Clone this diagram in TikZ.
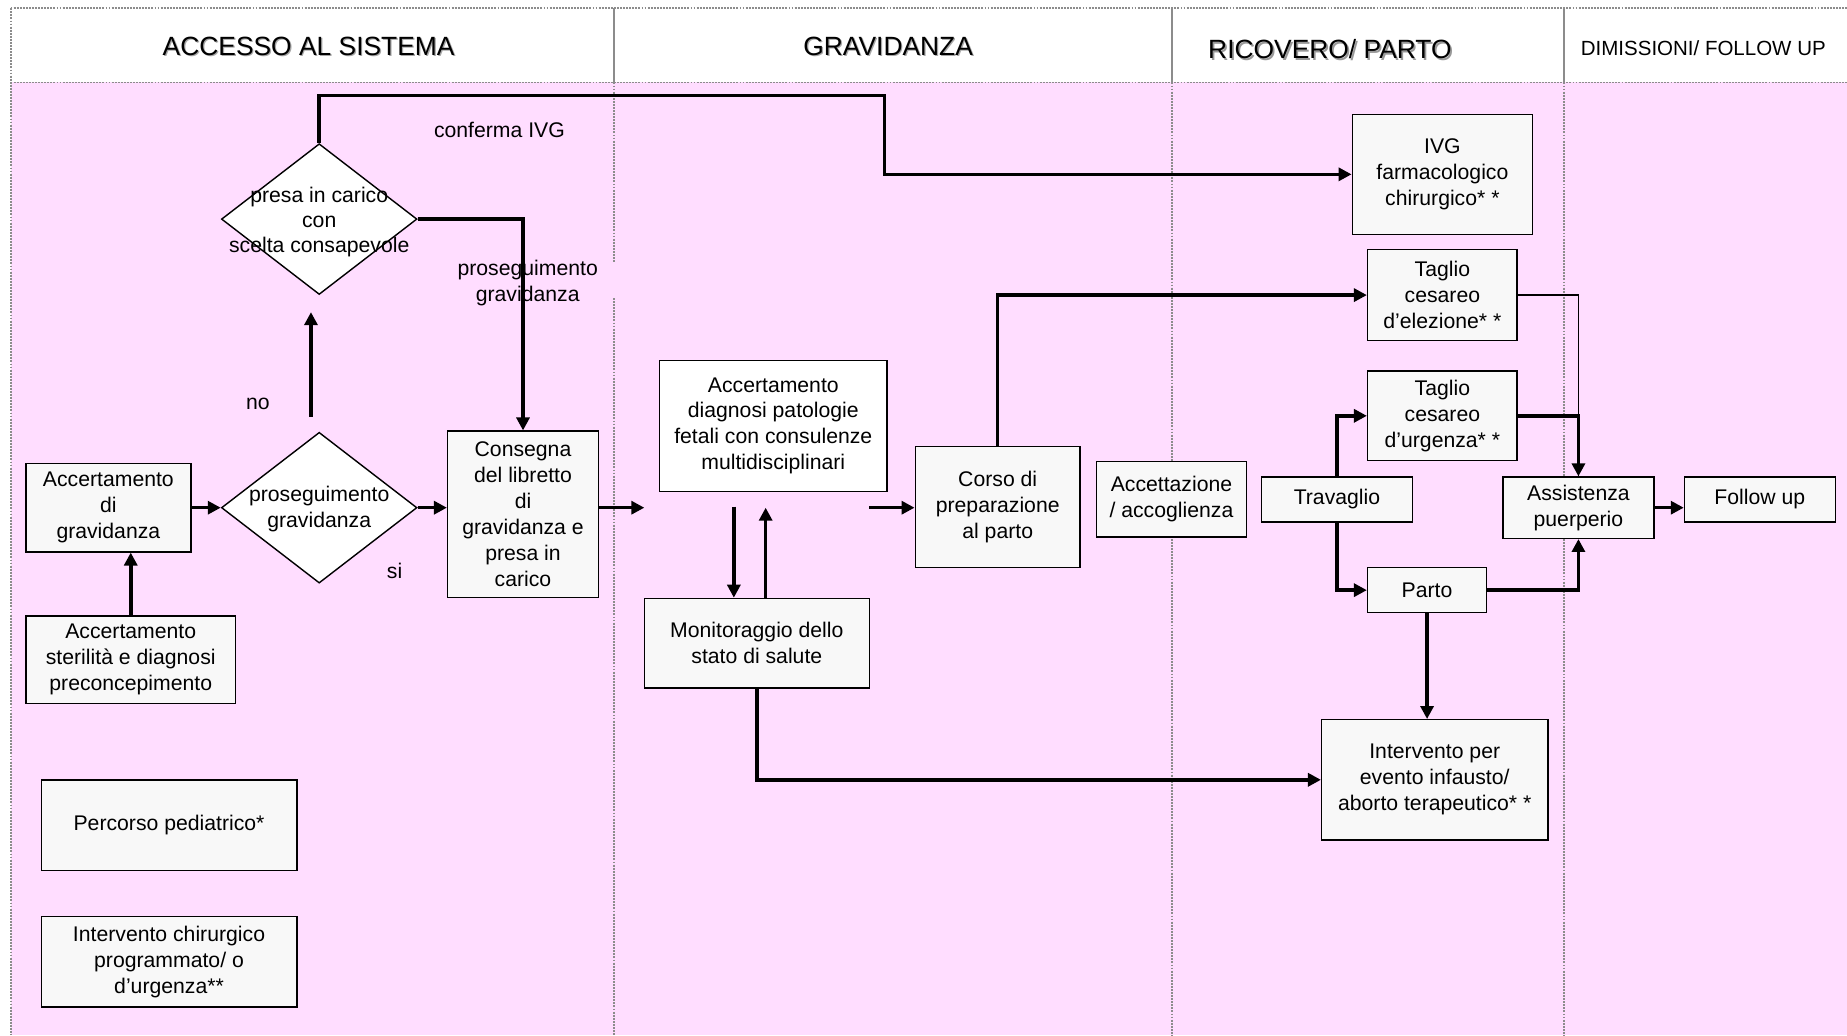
\documentclass[tikz,border=0pt]{standalone}
\usepackage{fontspec}
\setmainfont{Liberation Sans}
\usetikzlibrary{shapes.geometric,arrows.meta}
\definecolor{lanepink}{RGB}{255,221,255}
\definecolor{boxgray}{RGB}{248,248,248}
\definecolor{rulegray}{RGB}{140,140,140}
\tikzset{
  box/.style={draw=black, line width=0.6pt, fill=boxgray, inner sep=0pt,
    align=center, font=\fontsize{9}{11}\selectfont},
  wbox/.style={box, fill=white},
  choice/.style={draw=black, line width=0.6pt, fill=white, shape=diamond,
    inner sep=0pt, minimum width=83pt, minimum height=64pt},
  flow/.style={line width=1.5pt, -{Triangle[length=5.5pt,width=5.5pt]}},
  thinflow/.style={line width=0.7pt},
  lbl/.style={align=center, font=\fontsize{9}{11}\selectfont},
  head/.style={font=\fontsize{11.2}{13}\selectfont},
  lanerule/.style={draw=rulegray, line width=0.8pt, dash pattern=on 0.8pt off 0.5pt},
  hdrrule/.style={draw=rulegray, line width=0.8pt},
}
\begin{document}
\begin{tikzpicture}[x=0.5pt, y=-0.5pt]
\useasboundingbox (0,0) rectangle (1568,879);
% lanes
\fill[white] (0,0) rectangle (1568,879);
\fill[lanepink] (9,70) rectangle (1568,879);
\draw[lanerule] (9,7) -- (1568,7);
\draw[lanerule] (9,70) -- (1568,70);
\draw[lanerule] (9,7) -- (9,879);
\foreach \lx in {521,995,1328} \draw[hdrrule] (\lx,7) -- (\lx,70);
\draw[lanerule] (521,70) -- (521,223);
\draw[lanerule] (521,253) -- (521,879);
\draw[lanerule] (995,70) -- (995,879);
\draw[lanerule] (1328,70) -- (1328,879);

% lane titles
\node[head, text=gray!70] at (263,40.5) {ACCESSO AL SISTEMA};
\node[head] (hAcc) at (262,39.5) {ACCESSO AL SISTEMA};
\node[head, text=gray!70] at (755,40.5) {GRAVIDANZA};
\node[head] (hGrav) at (754,39.5) {GRAVIDANZA};
\node[head, text=gray!80] at (1130.5,43) {RICOVERO/ PARTO};
\node[head] (hRic) at (1129,41.5) {RICOVERO/ PARTO};
\node[font=\fontsize{8.7}{10}\selectfont] (hDim) at (1446,41) {DIMISSIONI/ FOLLOW UP};

% access to the system
\node[box, minimum width=70pt, minimum height=37.5pt] (accgrav) at (92,431) {Accertamento\\di\\gravidanza};
\node[box, minimum width=89pt, minimum height=37pt] (acster) at (111,560) {Accertamento\\sterilità e diagnosi\\preconcepimento};
\node[choice] (d1) at (271,431) {};
\node[lbl] (d1t) at (271,432.5) {proseguimento\\gravidanza};
\node[choice] (d2) at (271,186) {};
\node[lbl, font=\fontsize{9}{10.7}\selectfont] (d2t) at (271,188.5) {presa in carico\\con\\scelta consapevole};
\node[box, minimum width=64pt, minimum height=70.5pt] (consegna) at (444,436.5) {Consegna\\del libretto\\di\\gravidanza e\\presa in\\carico};
\node[box, minimum width=108.5pt, minimum height=38.5pt] (pediat) at (143.5,700.5) {Percorso pediatrico*};
\node[box, minimum width=108.5pt, minimum height=38.5pt] (chir) at (143.5,816.5) {Intervento chirurgico\\programmato/ o\\d’urgenza**};

\node[lbl] (lIVG) at (424,110.5) {conferma IVG};
\node[lbl] (lPros) at (448,240.5) {proseguimento\\gravidanza};
\node[lbl] (lNo) at (219,342.5) {no};
\node[lbl] (lSi) at (335,484.5) {si};

% pregnancy
\node[wbox, minimum width=96.5pt, minimum height=55.5pt] (accdiag) at (656.5,361.5) {Accertamento\\diagnosi patologie\\fetali con consulenze\\multidisciplinari};
\node[box, minimum width=95.5pt, minimum height=38pt] (monit) at (642.5,546) {Monitoraggio dello\\stato di salute};
\node[box, minimum width=70pt, minimum height=51.5pt] (corso) at (847,430.5) {Corso di\\preparazione\\al parto};

% admission / delivery
\node[box, minimum width=63.5pt, minimum height=32pt] (accett) at (994.5,424) {Accettazione\\/ accoglienza};
\node[box, minimum width=76.5pt, minimum height=51pt] (ivg) at (1224.5,148) {IVG\\farmacologico\\chirurgico* *};
\node[box, minimum width=63.5pt, minimum height=38.5pt] (tce) at (1224.5,250.5) {Taglio\\cesareo\\d’elezione* *};
\node[box, minimum width=63.5pt, minimum height=38pt] (tcu) at (1224.5,353) {Taglio\\cesareo\\d’urgenza* *};
\node[box, minimum width=64pt, minimum height=19pt] (trav) at (1135,424) {Travaglio};
\node[box, minimum width=50.5pt, minimum height=19pt] (parto) at (1211.5,501) {Parto};
\node[box, minimum width=96pt, minimum height=51pt] (interv) at (1218,662) {Intervento per\\evento infausto/\\aborto terapeutico* *};

% discharge / follow up
\node[box, minimum width=64pt, minimum height=26pt] (assist) at (1340,431) {Assistenza\\puerperio};
\node[box, minimum width=64pt, minimum height=19pt] (follow) at (1494,424) {Follow up};

% free ends of the short connectors
\coordinate (noA) at (264,354);
\coordinate (noB) at (264,265);
\coordinate (outC) at (547,431);
\coordinate (downA) at (623,430);
\coordinate (upB) at (650,431);
\coordinate (inC) at (738,431);
\coordinate (ivgbend) at (751,81);

% connectors
\draw[flow] (acster.north) -- (acster.north |- accgrav.south);
\draw[flow] (accgrav.east |- d1.west) -- (d1.west);
\draw[flow] (d1.east) -- (d1.east -| consegna.west);
\draw[flow] (noA) -- (noB);
\draw[flow] (d2.north) |- (ivgbend) |- (ivg.west);
\draw[flow] (d2.east) -| (consegna.north);
\draw[flow] (consegna.east |- outC) -- (outC);
\draw[flow] (downA) -- (downA |- monit.north);
\draw[flow] (monit.north -| upB) -- (upB);
\draw[flow] (inC) -- (inC -| corso.west);
\draw[flow] (corso.north) |- (tce.west);
\draw[flow] (monit.south) |- (interv.west);
\draw[flow] (trav.north) |- (tcu.west);
\draw[flow] (trav.south) |- (parto.west);
\draw[thinflow] (tce.east) -| (assist.north);
\draw[flow] (tcu.east) -| (assist.north);
\draw[flow] (parto.east) -| (assist.south);
\draw[flow] (parto.south) -- (parto.south |- interv.north);
\draw[flow] (assist.east) -- (assist.east -| follow.west);
\end{tikzpicture}
\end{document}
